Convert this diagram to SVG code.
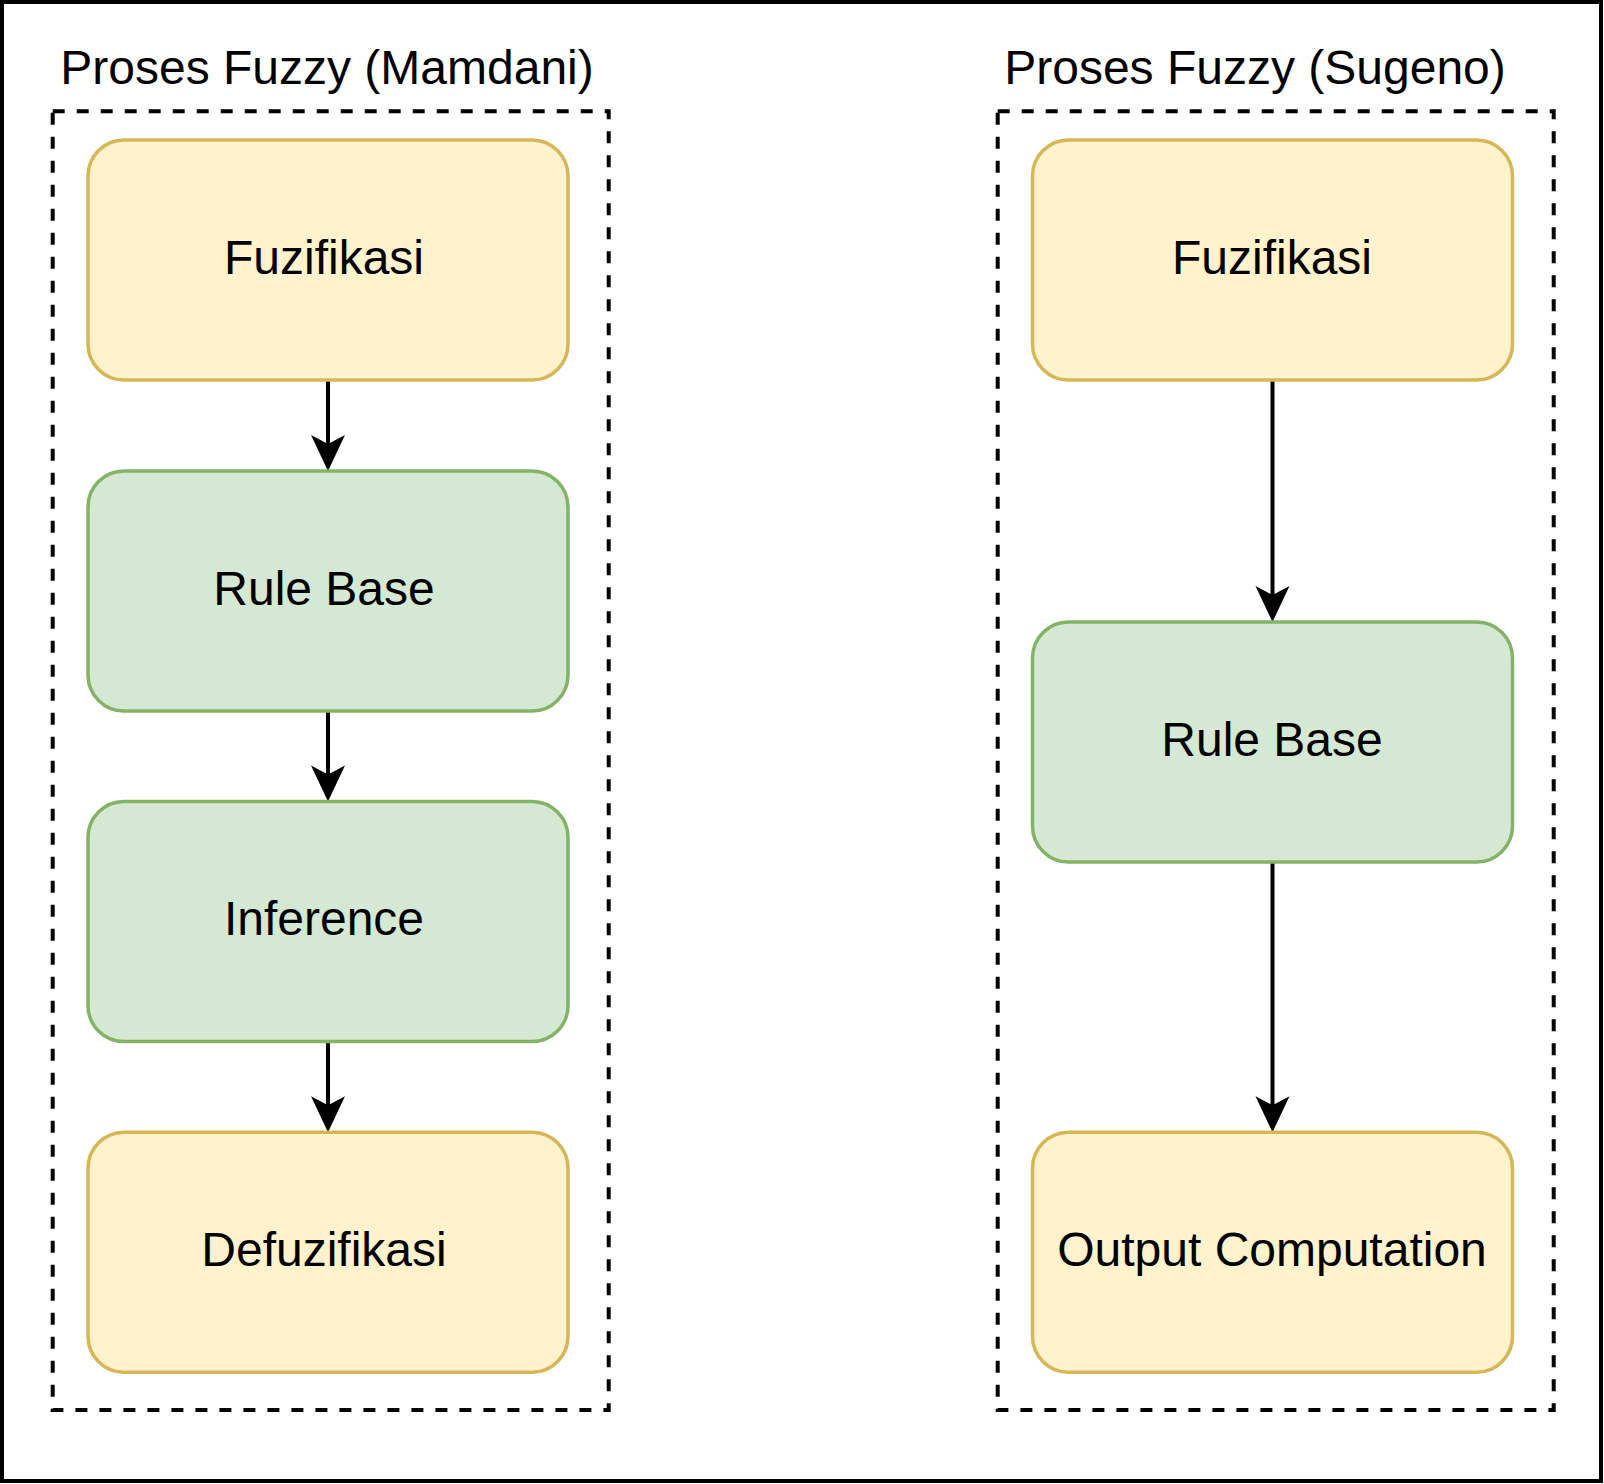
<svg xmlns="http://www.w3.org/2000/svg" width="1604" height="1484" viewBox="0 0 1604 1484">
<style>
  .frame { fill: #ffffff; stroke: #000000; stroke-width: 4; }
  .group { fill: none; stroke: #000000; stroke-width: 4; stroke-dasharray: 12 12; }
  .yellow { fill: #fff2cc; stroke: #d6b656; stroke-width: 3.5; }
  .green { fill: #d5e8d4; stroke: #82b366; stroke-width: 3.5; }
  .label { font-family: "Liberation Sans", Arial, sans-serif; font-size: 48px; fill: #000000; text-anchor: middle; }
  .edge { fill: none; stroke: #000000; stroke-width: 4; }
</style>
<rect class="frame" x="2" y="2" width="1599" height="1479"/>

<g id="group-mamdani">
  <rect class="group" x="52.7" y="111.3" width="556" height="1298.7"/>
  <text class="label" x="327" y="83.5">Proses Fuzzy (Mamdani)</text>
</g>
<g id="group-sugeno">
  <rect class="group" x="997.7" y="111.3" width="556" height="1298.7"/>
  <text class="label" x="1255" y="83.5">Proses Fuzzy (Sugeno)</text>
</g>

<g id="connectors">
  <line class="edge" x1="328" y1="380" x2="328" y2="445"/>
  <path d="M328,471 L311,435 L328,444 L345,435 Z" fill="#000000"/>
  <line class="edge" x1="328" y1="711" x2="328" y2="775"/>
  <path d="M328,801.5 L311,765.5 L328,774.5 L345,765.5 Z" fill="#000000"/>
  <line class="edge" x1="328" y1="1041.5" x2="328" y2="1106"/>
  <path d="M328,1132.3 L311,1096.3 L328,1105.3 L345,1096.3 Z" fill="#000000"/>
  <line class="edge" x1="1272.5" y1="380" x2="1272.5" y2="596"/>
  <path d="M1272.5,622 L1255.5,586 L1272.5,595 L1289.5,586 Z" fill="#000000"/>
  <line class="edge" x1="1272.5" y1="862" x2="1272.5" y2="1106"/>
  <path d="M1272.5,1132.3 L1255.5,1096.3 L1272.5,1105.3 L1289.5,1096.3 Z" fill="#000000"/>
</g>

<g id="m-fuzifikasi">
  <rect class="yellow" x="88" y="140" width="480" height="240" rx="36" ry="36"/>
  <text class="label" x="324" y="273.6">Fuzifikasi</text>
</g>
<g id="m-rulebase">
  <rect class="green" x="88" y="471" width="480" height="240" rx="36" ry="36"/>
  <text class="label" x="324" y="604.6">Rule Base</text>
</g>
<g id="m-inference">
  <rect class="green" x="88" y="801.5" width="480" height="240" rx="36" ry="36"/>
  <text class="label" x="324" y="935.1">Inference</text>
</g>
<g id="m-defuzifikasi">
  <rect class="yellow" x="88" y="1132.3" width="480" height="240" rx="36" ry="36"/>
  <text class="label" x="324" y="1265.9">Defuzifikasi</text>
</g>

<g id="s-fuzifikasi">
  <rect class="yellow" x="1032.5" y="140" width="480" height="240" rx="36" ry="36"/>
  <text class="label" x="1272" y="273.6">Fuzifikasi</text>
</g>
<g id="s-rulebase">
  <rect class="green" x="1032.5" y="622" width="480" height="240" rx="36" ry="36"/>
  <text class="label" x="1272" y="755.6">Rule Base</text>
</g>
<g id="s-output">
  <rect class="yellow" x="1032.5" y="1132.3" width="480" height="240" rx="36" ry="36"/>
  <text class="label" x="1272" y="1265.9">Output Computation</text>
</g>
</svg>
